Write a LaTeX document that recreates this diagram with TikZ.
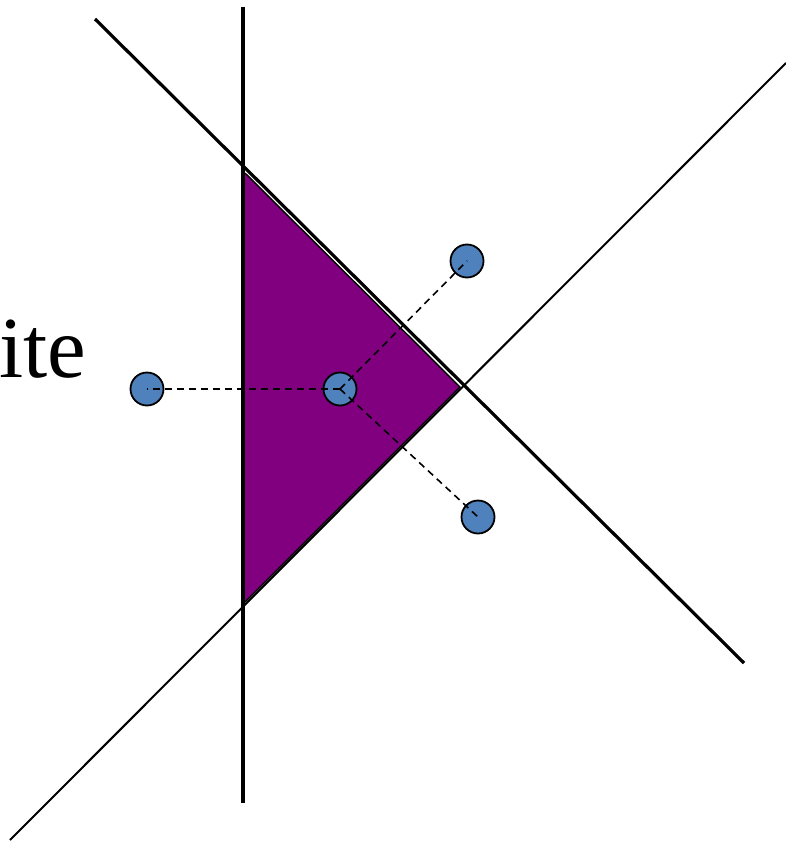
\documentclass[tikz,border=0pt]{standalone}
\usepackage{fontspec}
\setmainfont{Liberation Serif}
\definecolor{tripurple}{HTML}{800080}
\definecolor{dotblue}{HTML}{4F81BD}
\tikzset{
  dot/.style={circle, draw=black, line width=1.8pt, fill=dotblue, minimum size=33pt, inner sep=0pt},
  link/.style={line width=1.6pt, dash pattern=on 7pt off 5pt},
  thickline/.style={line width=3.2pt},
  thinline/.style={line width=2pt},
}
\begin{document}
\begin{tikzpicture}[x=1pt, y=-1pt]
\useasboundingbox (0,0) rectangle (786,843);
% lines end points
\coordinate (v1) at (243,7);
\coordinate (v2) at (243,803);
\coordinate (d1) at (95,19);
\coordinate (d2) at (744,663);
\coordinate (a1) at (10,840);
\coordinate (a2) at (786,63);
% triangle
\coordinate (t1) at (245,173);
\coordinate (t2) at (460,387);
\coordinate (t3) at (245,602);
\fill[tripurple] (t1) -- (t2) -- (t3) -- cycle;
\draw[line width=1.4pt] (t1) -- (t2) -- (t3);
\draw[thickline] (v1) -- (v2);
\draw[thickline] (d1) -- (d2);
\draw[thinline] (a1) -- (a2);
% text
\node[anchor=base west, inner sep=0pt, font=\fontsize{87}{90}\selectfont] (lbl) at (-1,377) {ite};
% dots
\node[dot] (c) at (340,389) {};
\node[dot] (l) at (147,389) {};
\node[dot] (u) at (467,261) {};
\node[dot] (r) at (478,517) {};
\draw[link] (c.center) -- (l.center);
\draw[link] (c.center) -- (u.center);
\draw[link] (c.center) -- (r.center);
\end{tikzpicture}
\end{document}
